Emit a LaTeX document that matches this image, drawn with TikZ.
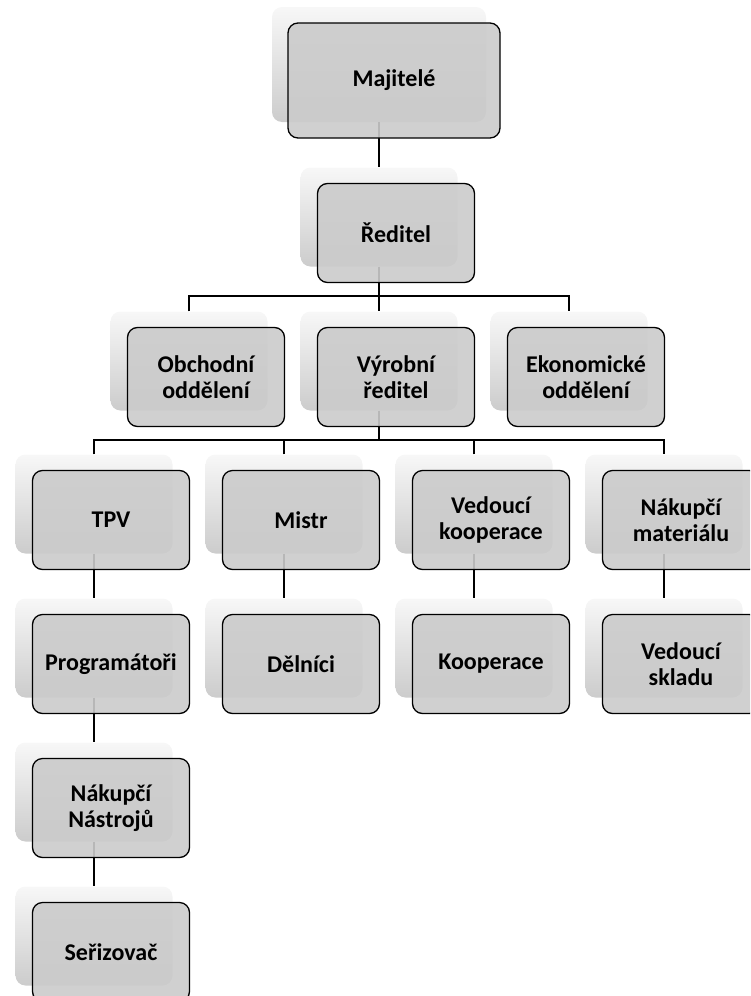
\documentclass[tikz,border=0pt]{standalone}
\usepackage{fontspec}
\setmainfont{Carlito}
\pgfdeclarelayer{bg}
\pgfdeclarelayer{mid}
\pgfsetlayers{bg,mid,main}
\definecolor{frontgray}{RGB}{203,203,203}
\tikzset{
  backbox/.style={rounded corners=10pt, draw=none, minimum width=157pt, minimum height=99pt,
    inner sep=0pt, top color=white!97!black, middle color=white!94!black, bottom color=white!80!black},
  frontbox/.style={draw=black, line width=1.3pt, rounded corners=10pt, fill=frontgray,
    fill opacity=0.9, text opacity=1, align=center, minimum width=157pt, minimum height=99pt,
    inner sep=0pt, font=\bfseries\fontsize{24}{26}\selectfont},
  conn/.style={draw=black, line width=1.5pt}
}
\newcommand{\unitbox}[4]{%
  \begin{pgfonlayer}{bg}\node[backbox] (#1-b) at (#2, #3-16) {};\end{pgfonlayer}
  \node[frontbox] (#1) at (#2+17, #3) {#4};
}
\begin{document}
\begin{tikzpicture}[x=1pt, y=-1pt]
\useasboundingbox (0,0) rectangle (750,996);
\clip (0,0) rectangle (750,996);
% top
\begin{pgfonlayer}{bg}\node[backbox, minimum width=214pt, minimum height=115pt] (maj-b) at (379,64.5) {};\end{pgfonlayer}
\node[frontbox, minimum width=212pt, minimum height=115pt] (maj) at (394,80.5) {Majitelé};
\unitbox{red}{379}{233}{Ředitel}
% level 2
\unitbox{obch}{189}{377}{Obchodní\\oddělení}
\unitbox{vyr}{379}{377}{Výrobní\\ředitel}
\unitbox{eko}{569}{377}{Ekonomické\\oddělení}
% level 3
\unitbox{tpv}{94}{520}{TPV}
\unitbox{mistr}{284}{520}{Mistr}
\unitbox{ved}{474}{520}{Vedoucí\\kooperace}
\unitbox{nak}{664}{520}{Nákupčí\\materiálu}
% level 4
\unitbox{prog}{94}{664}{Programátoři}
\unitbox{del}{284}{664}{Dělníci}
\unitbox{koop}{474}{664}{Kooperace}
\unitbox{vskl}{664}{664}{Vedoucí\\skladu}
% level 5,6
\unitbox{nnas}{94}{808}{Nákupčí\\Nástrojů}
\unitbox{ser}{94}{952}{Seřizovač}
\coordinate (bar1) at (379,296);
\coordinate (bar2) at (379,440);
\begin{pgfonlayer}{mid}
\draw[conn] (maj-b.south) -- (red-b.north);
\draw[conn] (red-b.south) -- (vyr-b.north);
\draw[conn] (obch-b.north) |- (bar1) -| (eko-b.north);
\draw[conn] (vyr-b.south) -- (bar2);
\draw[conn] (tpv-b.north) |- (bar2) -| (nak-b.north);
\draw[conn] (mistr-b.north) -- (mistr-b.north |- bar2);
\draw[conn] (ved-b.north) -- (ved-b.north |- bar2);
\draw[conn] (tpv-b.south) -- (prog-b.north);
\draw[conn] (prog-b.south) -- (nnas-b.north);
\draw[conn] (nnas-b.south) -- (ser-b.north);
\draw[conn] (mistr-b.south) -- (del-b.north);
\draw[conn] (ved-b.south) -- (koop-b.north);
\draw[conn] (nak-b.south) -- (vskl-b.north);
\end{pgfonlayer}
\end{tikzpicture}
\end{document}
